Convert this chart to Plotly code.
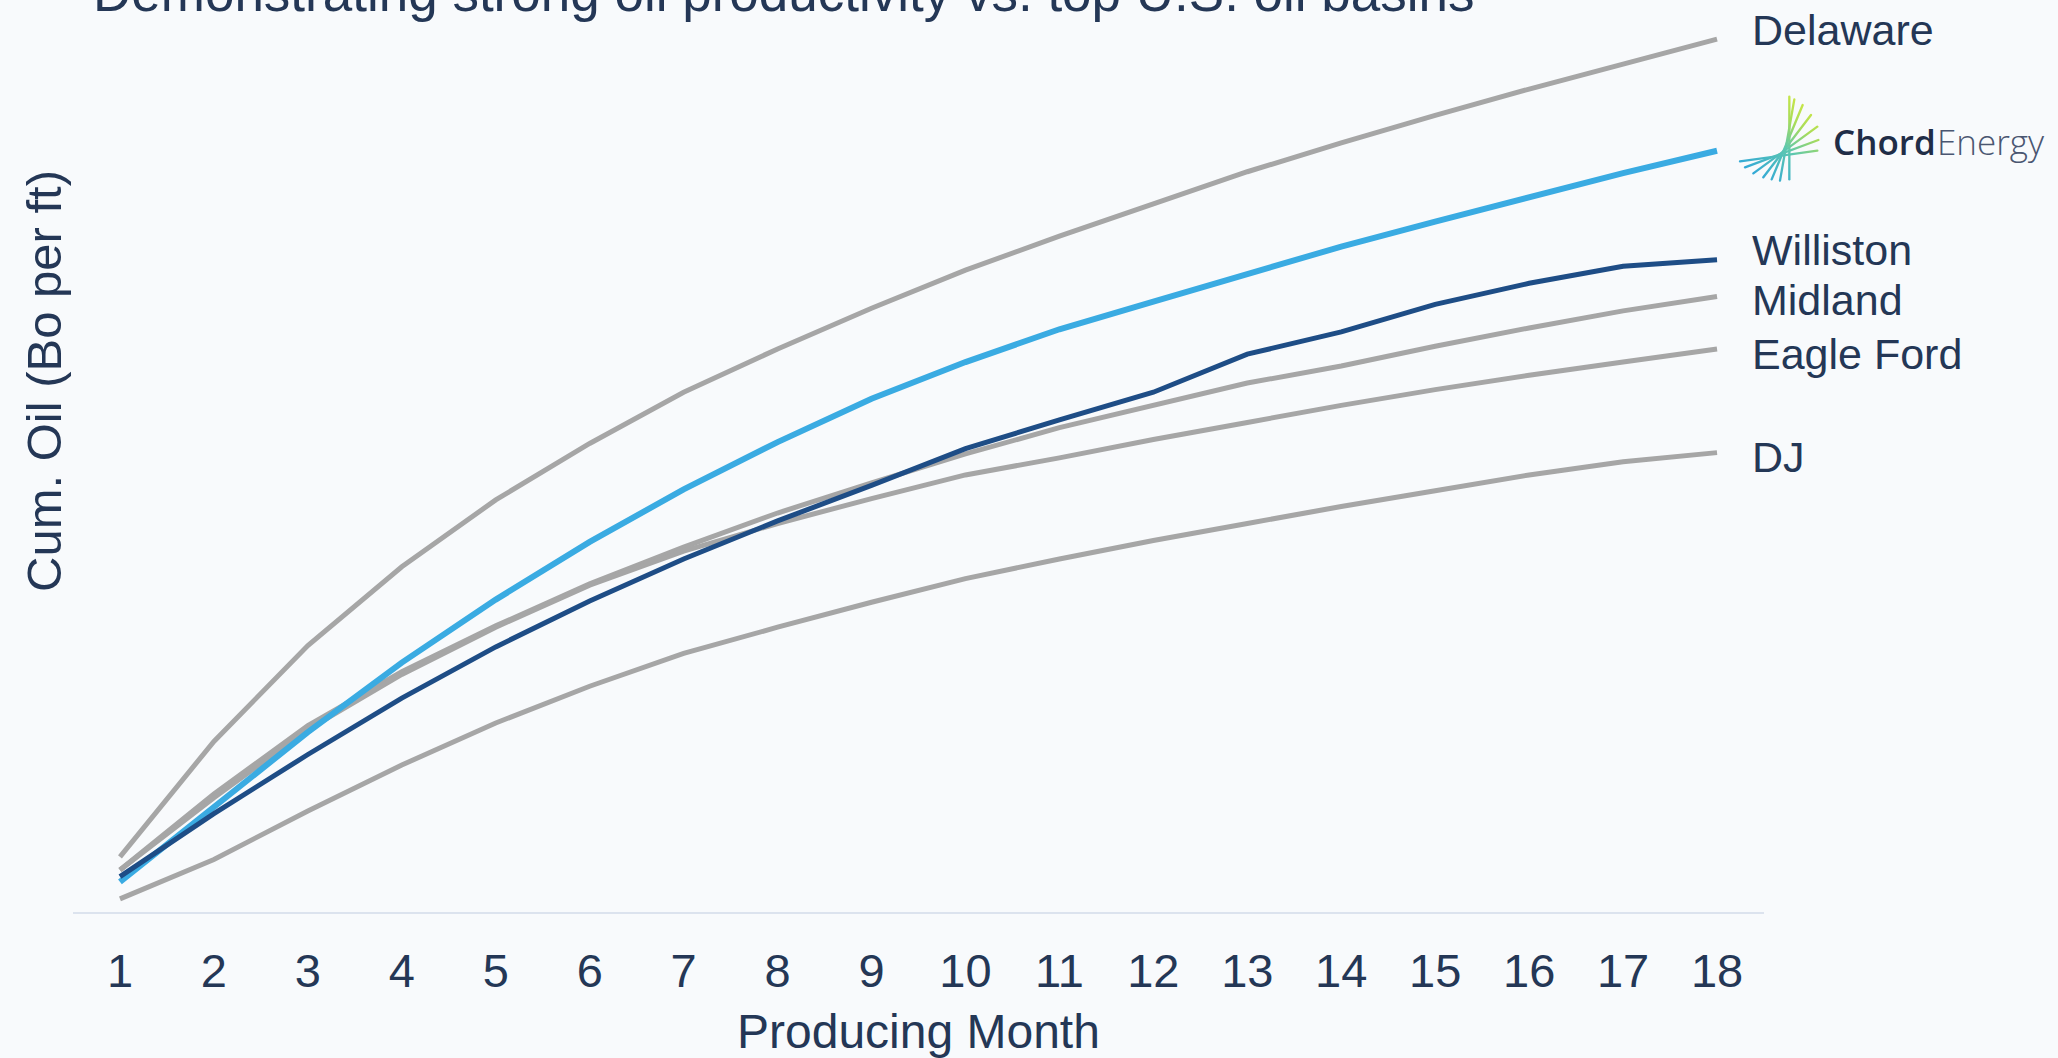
import base64
import plotly.graph_objects as go

# ---------------- data ----------------
months = list(range(1, 19))
month_labels = [str(m) for m in months]

delaware = [4.2, 13.0, 20.3, 26.3, 31.4, 35.7, 39.6, 42.9, 46.0, 48.9, 51.5, 54.0, 56.4, 58.6, 60.7, 62.7, 64.6, 66.5]
chord = [2.3, 8.0, 13.7, 19.0, 23.8, 28.2, 32.2, 35.8, 39.1, 41.9, 44.4, 46.5, 48.6, 50.7, 52.6, 54.5, 56.3, 58.0]
williston = [2.7, 7.5, 12.0, 16.3, 20.2, 23.7, 26.9, 29.8, 32.5, 35.3, 37.5, 39.6, 42.5, 44.2, 46.3, 47.9, 49.2, 49.7]
midland = [3.2, 9.0, 14.2, 18.3, 21.8, 25.0, 27.8, 30.4, 32.7, 34.9, 36.9, 38.6, 40.3, 41.6, 43.1, 44.5, 45.8, 46.9]
eagle_ford = [3.2, 8.7, 13.9, 18.1, 21.7, 24.9, 27.5, 29.6, 31.5, 33.3, 34.6, 36.0, 37.3, 38.6, 39.8, 40.9, 41.9, 42.9]
dj = [1.0, 4.0, 7.7, 11.2, 14.4, 17.2, 19.7, 21.7, 23.6, 25.4, 26.9, 28.3, 29.6, 30.9, 32.1, 33.3, 34.3, 35.0]

basin_names = ["Delaware", "Williston", "Midland", "Eagle Ford", "DJ"]

title_text = "Demonstrating strong oil productivity vs. top U.S. oil basins"
x_title = "Producing Month"
y_title = "Cum. Oil (Bo per ft)"

# ---------------- style ----------------
W, H = 2058, 1058
L, R_EDGE, T, B = 73, 1764, 20, 912
BG = "#F8FAFC"
TXT = "#243756"
GRAY = "#A6A6A6"
LIGHT_BLUE = "#3AABE2"
DARK_BLUE = "#1E4D86"
FONT = "Liberation Sans, Arial, sans-serif"


def px(p):
    return (p - L) / (R_EDGE - L)


def py(p):
    return (B - p) / (B - T)


fig = go.Figure()

gray_series = [("Delaware", delaware), ("Midland", midland), ("Eagle Ford", eagle_ford), ("DJ", dj)]
for name, vals in gray_series:
    fig.add_trace(go.Scatter(x=months, y=vals, mode="lines", name=name,
                             line=dict(color=GRAY, width=5), showlegend=False))
fig.add_trace(go.Scatter(x=months, y=chord, mode="lines", name="Chord Energy",
                         line=dict(color=LIGHT_BLUE, width=6), showlegend=False))
fig.add_trace(go.Scatter(x=months, y=williston, mode="lines", name="Williston",
                         line=dict(color=DARK_BLUE, width=5), showlegend=False))

yscale = 13.125  # px per unit
ymax = (B - T) / yscale

annotations = []
# title (partly above the top edge, as in the source slide)
annotations.append(dict(text=title_text, xref="paper", yref="paper", x=px(91), y=py(11 - 0.3465 * 53),
                        xanchor="left", yanchor="middle", showarrow=False,
                        font=dict(family=FONT, size=53, color=TXT)))
# axis titles
annotations.append(dict(text=x_title, xref="paper", yref="paper", x=0.5, y=py(1031.5),
                        xanchor="center", yanchor="middle", showarrow=False,
                        font=dict(family=FONT, size=48, color=TXT)))
annotations.append(dict(text=y_title, xref="paper", yref="paper", x=px(44), y=py(381),
                        xanchor="center", yanchor="middle", textangle=-90, showarrow=False,
                        font=dict(family=FONT, size=49, color=TXT)))
# right-side labels
label_centers = [30.5, 250, 300, 353.5, 457]
for name, cy in zip(basin_names, label_centers):
    annotations.append(dict(text=name, xref="paper", yref="paper", x=px(1750), y=py(cy),
                            xanchor="left", yanchor="middle", showarrow=False,
                            font=dict(family=FONT, size=43, color=TXT)))
# logo text
annotations.append(dict(text="Chord", xref="paper", yref="paper", x=px(1831), y=py(141),
                        xanchor="left", yanchor="middle", showarrow=False,
                        font=dict(family="Open Sans, sans-serif", size=35, color="#1F2D47", weight=600)))
annotations.append(dict(text="Energy", xref="paper", yref="paper", x=px(1935), y=py(141),
                        xanchor="left", yanchor="middle", showarrow=False,
                        font=dict(family="Open Sans, sans-serif", size=35, color="#4A5671", weight=300)))

# logo mark as inline SVG
logo_lines = [
    (178, 268, 178, 20),
    (150, 272, 193, 28),
    (125, 268, 218, 45),
    (100, 262, 243, 75),
    (70, 250, 262, 110),
    (45, 232, 265, 150),
    (30, 214, 262, 182),
]
svg_parts = ['<svg xmlns="http://www.w3.org/2000/svg" width="300" height="300" viewBox="0 0 300 300">',
             '<defs><linearGradient id="g" gradientUnits="userSpaceOnUse" x1="60" y1="270" x2="240" y2="20">',
             '<stop offset="0" stop-color="#2BA3DE"/><stop offset="0.45" stop-color="#5CC7B0"/>',
             '<stop offset="0.7" stop-color="#A8DC5A"/><stop offset="1" stop-color="#D6EA3E"/>',
             '</linearGradient></defs>']
for x1, y1, x2, y2 in logo_lines:
    svg_parts.append(f'<line x1="{x1}" y1="{y1}" x2="{x2}" y2="{y2}" stroke="url(#g)" stroke-width="7" stroke-linecap="round"/>')
svg_parts.append('</svg>')
svg = "".join(svg_parts)
logo_src = "data:image/svg+xml;base64," + base64.b64encode(svg.encode()).decode()

fig.update_layout(
    width=W, height=H,
    margin=dict(l=L, r=W - R_EDGE, t=T, b=H - B, pad=0),
    paper_bgcolor=BG, plot_bgcolor=BG,
    font=dict(family=FONT, color=TXT),
    showlegend=False,
    annotations=annotations,
    images=[dict(source=logo_src, xref="paper", yref="paper", x=px(1730), y=py(90),
                 sizex=100 / (R_EDGE - L), sizey=100 / (B - T), xanchor="left", yanchor="top",
                 sizing="stretch", layer="above")],
    xaxis=dict(range=[0.5, 18.5], tickmode="array", tickvals=months, ticktext=month_labels,
               showgrid=False, zeroline=False, showline=True, linecolor="#DCE3EE", linewidth=2,
               ticks="", tickfont=dict(family=FONT, size=47, color=TXT), ticklabelstandoff=17),
    yaxis=dict(range=[0, ymax], showgrid=False, zeroline=False, showline=False,
               showticklabels=False, ticks=""),
)

fig.write_html("out.html", config={"displayModeBar": False},
               post_script="document.body.style.margin='0';document.body.style.background='#F8FAFC';document.body.style.overflow='hidden';")
